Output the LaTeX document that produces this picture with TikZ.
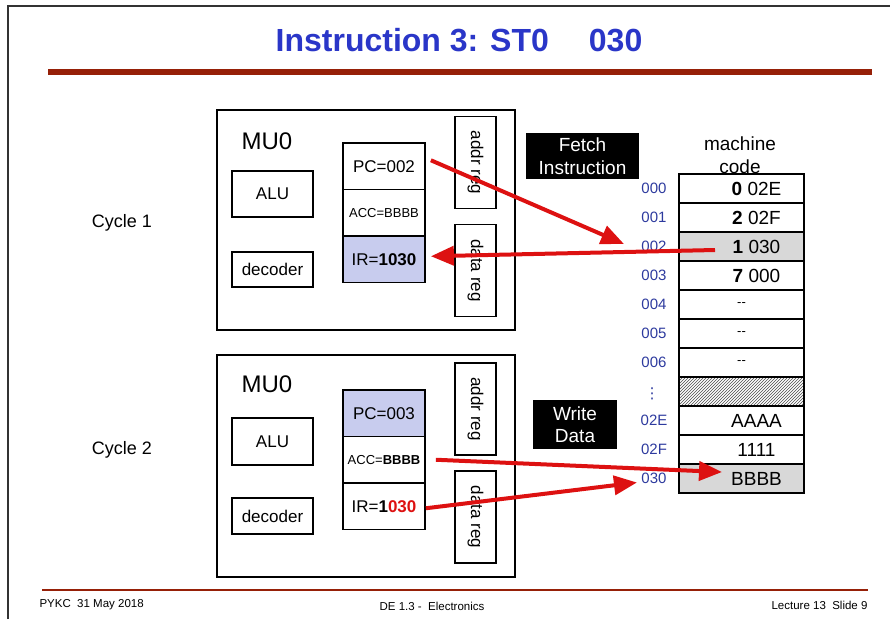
\documentclass[tikz,border=0pt]{standalone}
\usepackage{fontspec}
\setmainfont{Liberation Sans}
\newfontfamily\symfont{DejaVu Sans}
\usepackage{xcolor}
\definecolor{titleblue}{HTML}{2A36C8}
\definecolor{barred}{HTML}{962008}
\definecolor{arrowred}{HTML}{DD1111}
\definecolor{regblue}{HTML}{C8CCEE}
\definecolor{cellgray}{HTML}{D8D8D8}
\definecolor{addrblue}{HTML}{2D3A9E}
\definecolor{framegray}{HTML}{333333}
\usepackage{tikz}
\usetikzlibrary{arrows.meta, patterns}
\newcommand{\memtxt}[1]{\hspace*{30pt}#1}

\begin{document}
\begin{tikzpicture}[x=1pt, y=-1pt,
    unit/.style={draw, line width=1.8pt, minimum width=81pt, inner sep=0pt,
      font=\fontsize{17}{20}\selectfont},
    reg/.style={draw, line width=1.8pt, minimum width=82pt, minimum height=46.5pt,
      inner sep=0pt, font=\fontsize{17}{20}\selectfont},
    bus/.style={draw, line width=1.8pt, rotate=-90, minimum width=92pt,
      minimum height=41pt, inner sep=0pt, font=\fontsize{17}{20}\selectfont},
    cpu/.style={draw, line width=1.8pt, minimum width=298pt, inner sep=0pt},
    memcell/.style={draw, line width=1.1pt, minimum width=125pt, minimum height=29pt,
      inner sep=0pt, font=\fontsize{19}{22}\selectfont},
    addr/.style={text=addrblue, font=\fontsize{15}{18}\selectfont},
    tag/.style={fill=black, text=white, align=center, inner sep=0pt,
      font=\fontsize{19}{22.5}\selectfont},
    arrow/.style={draw=arrowred, line width=4pt, -{Triangle[length=23pt, width=19pt]}}
]
  \useasboundingbox (0,0) rectangle (890,619);

  % Rahmen und Titel
  \draw[framegray, line width=1.5pt] (8,619) -- (8,6) -- (890,6);
  \node[font=\bfseries\fontsize{32}{36}\selectfont, text=titleblue] (title) at (459,40)
    {Instruction 3: ST0\hspace{40pt}030};
  \draw[barred, line width=6pt] (48,72) -- (872,72);

  % Fusszeile
  \draw[barred, line width=2.5pt] (42,590) -- (868,590);
  \node[font=\fontsize{11.5}{14}\selectfont, anchor=west] (ftleft) at (36,605) {PYKC\ \ 31 May 2018};
  \node[font=\fontsize{11.5}{14}\selectfont] (ftmid) at (432,606) {DE 1.3 -\ \ Electronics};
  \node[font=\fontsize{11.5}{14}\selectfont, anchor=east] (ftright) at (871,605) {Lecture 13\ \ Slide 9};

  % Zyklus 1
  \node[font=\fontsize{18}{21}\selectfont] (cyc1) at (122,223) {Cycle 1};
  \node[cpu, minimum height=220pt] (mu1) at (366,220) {};
  \node[font=\fontsize{24}{28}\selectfont] (mu1name) at (267,141) {MU0};
  \node[unit, minimum height=46pt] (alu1) at (272.5,194) {ALU};
  \node[unit, minimum height=35pt] (dec1) at (272.5,269.5) {decoder};
  \node[reg] (pc1) at (384,166.25) {PC=002};
  \node[reg, font=\fontsize{13}{15}\selectfont] (acc1) at (384,212.75) {ACC=BBBB};
  \node[reg, fill=regblue] (ir1) at (384,259.25) {IR=\textbf{1030}};
  \node[bus] (ar1) at (475.5,162.5) {addr reg};
  \node[bus] (dr1) at (475.5,270.5) {data reg};
  \node[tag, minimum width=113pt, minimum height=46pt] (fetch) at (582.5,156)
    {Fetch\\Instruction};

  % Zyklus 2
  \node[font=\fontsize{18}{21}\selectfont] (cyc2) at (122,450) {Cycle 2};
  \node[cpu, minimum height=222pt] (mu2) at (366,466) {};
  \node[font=\fontsize{24}{28}\selectfont] (mu2name) at (267,384) {MU0};
  \node[unit, minimum height=47pt] (alu2) at (272.5,441.5) {ALU};
  \node[unit, minimum height=36pt] (dec2) at (272.5,516) {decoder};
  \node[reg, fill=regblue] (pc2) at (384,413.25) {PC=003};
  \node[reg, font=\fontsize{13}{15}\selectfont] (acc2) at (384,459.75) {ACC=\textbf{BBBB}};
  \node[reg] (ir2) at (384,506.25) {IR=\textbf{1\textcolor{arrowred}{030}}};
  \node[bus] (ar2) at (475.5,409) {addr reg};
  \node[bus] (dr2) at (475.5,517) {data reg};
  \node[tag, minimum width=84pt, minimum height=49pt] (write) at (575,424.5)
    {Write\\Data};

  % Speicher
  \node[font=\fontsize{19}{23}\selectfont, align=center] (mclabel) at (740,155) {machine\\code};
  \node[memcell] (m0) at (741.5,188.5) {\memtxt{\textbf{0} 02E}};
  \node[memcell] (m1) at (741.5,217.5) {\memtxt{\textbf{2} 02F}};
  \node[memcell, fill=cellgray] (m2) at (741.5,246.5) {\memtxt{\textbf{1} 030}};
  \node[memcell] (m3) at (741.5,275.5) {\memtxt{\textbf{7} 000}};
  \node[memcell, font=\fontsize{13}{15}\selectfont] (m4) at (741.5,304.5) {-{}-};
  \node[memcell, font=\fontsize{13}{15}\selectfont] (m5) at (741.5,333.5) {-{}-};
  \node[memcell, font=\fontsize{13}{15}\selectfont] (m6) at (741.5,362.5) {-{}-};
  \node[memcell, pattern=north east lines, pattern color=black!70] (m7) at (741.5,391.5) {};
  \node[memcell] (m8) at (741.5,420.5) {\memtxt{AAAA}};
  \node[memcell] (m9) at (741.5,449.5) {\memtxt{1111}};
  \node[memcell, fill=cellgray] (m10) at (741.5,478.5) {\memtxt{BBBB}};

  % Adressen
  \node[addr] (a0) at (654,188.5) {000};
  \node[addr] (a1) at (654,217.5) {001};
  \node[addr] (a2) at (654,246.5) {002};
  \node[addr] (a3) at (654,275.5) {003};
  \node[addr] (a4) at (654,304.5) {004};
  \node[addr] (a5) at (654,333.5) {005};
  \node[addr] (a6) at (654,362.5) {006};
  \node[addr, font=\symfont\fontsize{15}{18}\selectfont] (a7) at (652,394) {⋮};
  \node[addr] (a8) at (654,420.5) {02E};
  \node[addr] (a9) at (654,449.5) {02F};
  \node[addr] (a10) at (654,478.5) {030};

  % Pfeile
  \coordinate (fetchtip) at (624,244);
  \coordinate (fetchsrc) at (715,250);
  \coordinate (writetip) at (722,472);
  \draw[arrow] ([xshift=5pt, yshift=6pt]pc1.east) -- (fetchtip);
  \draw[arrow] (fetchsrc) -- ([xshift=5pt, yshift=3pt]ir1.east);
  \draw[arrow] ([xshift=10pt]acc2.east) -- (writetip);
  \draw[arrow] ([yshift=-2pt]ir2.east) -- ([xshift=-1pt, yshift=-4pt]a10.west);

\end{tikzpicture}
\end{document}
